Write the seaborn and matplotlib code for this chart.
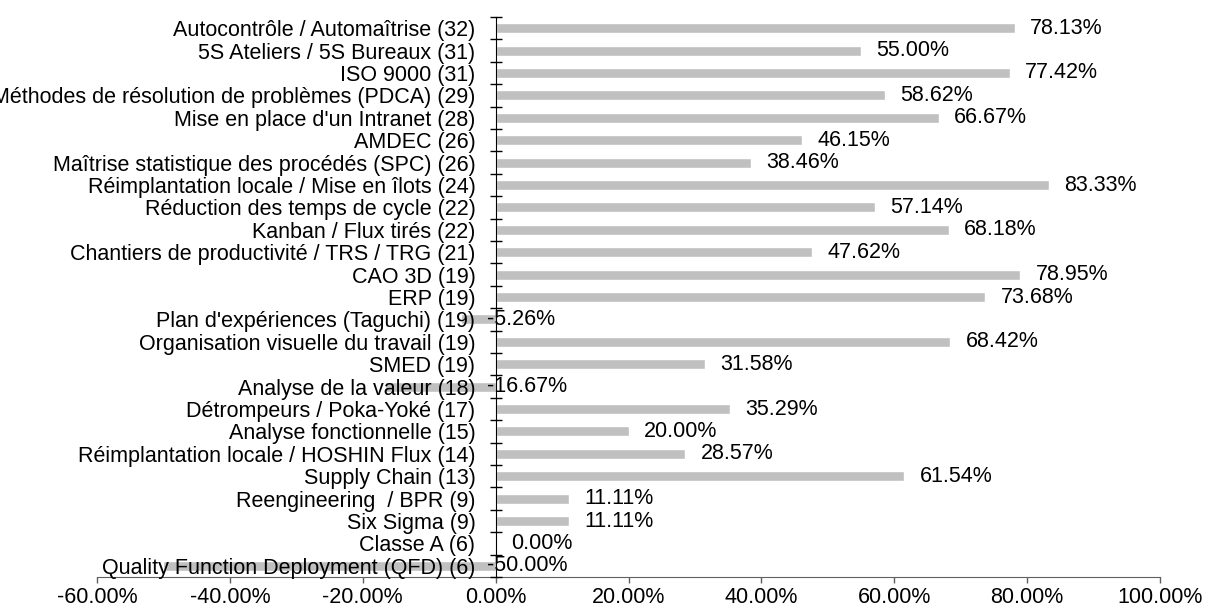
import matplotlib
matplotlib.use("Agg")
import matplotlib.pyplot as plt
import matplotlib.ticker as mticker
import numpy as np
import seaborn as sns

# données
names = [
    "Autocontrôle / Automaîtrise", "5S Ateliers / 5S Bureaux", "ISO 9000",
    "Méthodes de résolution de problèmes (PDCA)", "Mise en place d'un Intranet",
    "AMDEC", "Maîtrise statistique des procédés (SPC)",
    "Réimplantation locale / Mise en îlots", "Réduction des temps de cycle",
    "Kanban / Flux tirés", "Chantiers de productivité / TRS / TRG", "CAO 3D",
    "ERP", "Plan d'expériences (Taguchi)", "Organisation visuelle du travail",
    "SMED", "Analyse de la valeur", "Détrompeurs / Poka-Yoké",
    "Analyse fonctionnelle", "Réimplantation locale / HOSHIN Flux",
    "Supply Chain", "Reengineering  / BPR", "Six Sigma", "Classe A",
    "Quality Function Deployment (QFD)",
]
counts = [32, 31, 31, 29, 28, 26, 26, 24, 22, 22, 21, 19, 19, 19, 19, 19,
          18, 17, 15, 14, 13, 9, 9, 6, 6]
values = [78.13, 55.00, 77.42, 58.62, 66.67, 46.15, 38.46, 83.33, 57.14,
          68.18, 47.62, 78.95, 73.68, -5.26, 68.42, 31.58, -16.67, 35.29,
          20.00, 28.57, 61.54, 11.11, 11.11, 0.00, -50.00]

labels = [f"{n} ({c})" for n, c in zip(names, counts)]
shares = [v / 100 for v in values]

sns.set_style("white")
plt.rcParams['font.family'] = ['Liberation Sans', 'DejaVu Sans']
plt.rcParams['text.color'] = 'black'
FS = 15.5

fig = plt.figure(figsize=(12.08, 6.10), dpi=100)
ax = fig.add_axes([97 / 1208, 1 - 577 / 610, (1160 - 97) / 1208, (577 - 17) / 610])

sns.barplot(x=shares, y=labels, orient="h", color="#c0c0c0", saturation=1,
            width=0.44, ax=ax)
ax.set_axisbelow(False)  # libellés au-dessus des barres négatives

ax.set_xlim(-0.6, 1.0)
ax.set_ylim(len(labels) - 0.5, -0.5)
ax.xaxis.set_major_locator(mticker.MultipleLocator(0.2))
ax.xaxis.set_major_formatter(mticker.FuncFormatter(lambda v, p: f"{v * 100:.2f}%"))

# axe vertical placé à 0
for s in ["top", "right"]:
    ax.spines[s].set_visible(False)
ax.spines["left"].set_position(("data", 0))
ax.spines["left"].set_color("#000000")
ax.spines["bottom"].set_color("#606060")

ax.set_yticks(np.arange(-0.5, len(labels), 1.0), minor=True)
ax.tick_params(axis="y", which="major", left=True, length=0, pad=14.5,
               labelsize=FS, labelcolor="black")
ax.tick_params(axis="y", which="minor", left=True, direction="inout",
               length=8.5, width=1, color="#000000")
ax.tick_params(axis="x", which="major", bottom=True, direction="out",
               length=4.5, width=1, color="#606060", pad=3, labelsize=FS,
               labelcolor="black")
ax.set_xlabel("")
ax.set_ylabel("")

# étiquettes de valeurs
for i, v in enumerate(shares):
    if v < 0:
        ax.annotate(f"{v * 100:.2f}%", xy=(0, i), xytext=(-6, 0),
                    textcoords="offset points", ha="left", va="center",
                    fontsize=FS, color="black")
    else:
        ax.annotate(f"{v * 100:.2f}%", xy=(v, i), xytext=(11, 0),
                    textcoords="offset points", ha="left", va="center",
                    fontsize=FS, color="black")

fig.savefig("out.png", dpi=100)
